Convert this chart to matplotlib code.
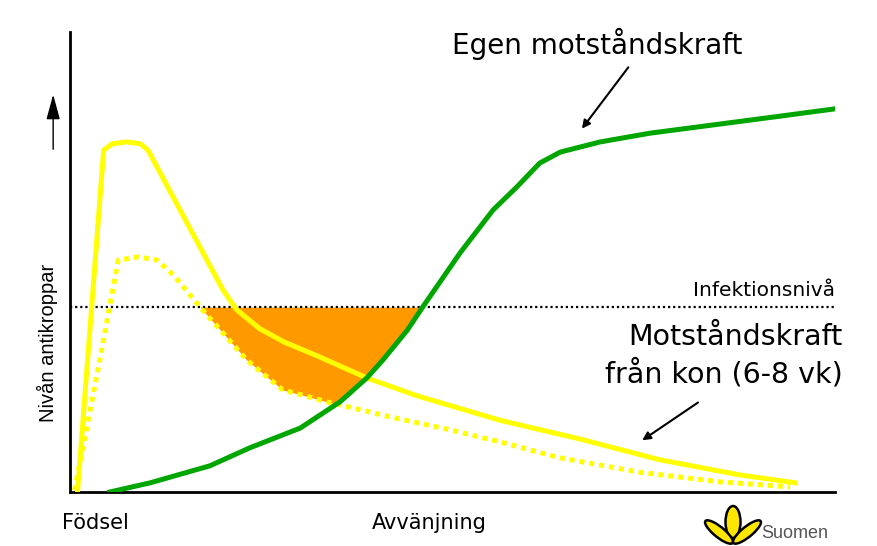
import matplotlib
matplotlib.use("Agg")
import matplotlib.pyplot as plt
import numpy as np
from matplotlib.patches import Ellipse

# Data (arbitrary time units 0-100, antibody level 0-100)
mother_x = [1.0, 4.4, 5.5, 7.4, 9.2, 10.2, 20.0, 21.8, 24.8, 28.0, 32.3, 38.8, 45.4, 56.2, 66.7, 77.1, 87.6, 94.8]
mother_y = [0.4, 74.3, 75.7, 76.1, 75.7, 74.3, 43.9, 39.6, 35.5, 32.6, 29.6, 24.8, 20.9, 15.6, 11.5, 7.0, 3.7, 2.0]

mother_low_x = [0.6, 3.7, 6.3, 8.9, 11.4, 13.5, 17.0, 23.1, 27.8, 33.6, 40.9, 49.7, 56.2, 64.1, 74.5, 85.0, 94.1]
mother_low_y = [0.4, 27.0, 50.4, 51.1, 50.4, 47.2, 40.2, 28.7, 22.2, 19.6, 16.7, 13.5, 10.9, 7.4, 4.3, 2.2, 1.1]

own_x = [5.2, 10.5, 18.3, 23.5, 30.1, 35.3, 38.8, 40.9, 44.1, 46.1, 51.0, 55.3, 58.4, 61.4, 64.1, 69.3, 75.8, 85.0, 92.8, 100.0]
own_y = [0.0, 2.0, 5.7, 9.6, 13.9, 19.6, 24.8, 28.7, 35.2, 40.2, 52.0, 61.3, 66.3, 71.5, 73.9, 76.1, 78.0, 80.0, 81.7, 83.3]

infection_level = 40.2

x_ticks = [3.3, 47.0]
x_labels = ["Födsel", "Avvänjning"]

fig = plt.figure(figsize=(8.77, 5.46), dpi=100)
ax = fig.add_axes([70/877, (546-492)/546, (835-70)/877, (492-32)/546])
ax.set_xlim(0, 100)
ax.set_ylim(0, 100)

# orange gap region
xs = np.linspace(0, 100, 2000)
low = np.interp(xs, mother_low_x, mother_low_y)
own = np.interp(xs, own_x, own_y)
lower = np.maximum(low, own)
mask = (xs > 12) & (lower < infection_level)
ax.fill_between(xs, lower, infection_level, where=mask, color="#FF9900", lw=0, zorder=1)

ax.axhline(infection_level, color="black", lw=1.6, ls=(0, (1, 1.3)), zorder=2)

ax.plot(mother_low_x, mother_low_y, color="#FFFF00", lw=3.6, ls=(0, (1, 1)), zorder=3,
        dash_capstyle="butt")
ax.plot(mother_x, mother_y, color="#FFFF00", lw=3.6, zorder=4, solid_joinstyle="round")
ax.plot(own_x, own_y, color="#00A600", lw=3.6, zorder=5, solid_joinstyle="round")

for s in ["top", "right"]:
    ax.spines[s].set_visible(False)
for s in ["left", "bottom"]:
    ax.spines[s].set_linewidth(2)
ax.set_yticks([])
ax.set_xticks(x_ticks)
ax.set_xticklabels(x_labels, fontsize=15, fontfamily="DejaVu Sans")
ax.tick_params(axis="x", length=0, pad=15)

fig.text(47/877, 1-343/546, "Nivån antikroppar", rotation=90, ha="center", va="center",
         fontsize=14.5, family="Liberation Sans")

# axis direction arrow
ax.annotate("", xy=(-0.022, 0.87), xytext=(-0.022, 0.739), xycoords="axes fraction",
            arrowprops=dict(arrowstyle="-|>,head_length=1.1,head_width=0.3", color="black",
                            lw=1, mutation_scale=14),
            annotation_clip=False)

ax.text(100, infection_level + 1.6, "Infektionsnivå", ha="right", va="bottom", fontsize=14.5)

ax.text(68.9, 97.5, "Egen motståndskraft", ha="center", va="center", fontsize=20)
ax.annotate("", xy=(66.7, 78.5), xytext=(73.2, 92.8),
            arrowprops=dict(arrowstyle="-|>", color="black", lw=1.5, mutation_scale=12))

ax.text(101, 29.6, "Motståndskraft\nfrån kon (6-8 vk)", ha="right", va="center",
        fontsize=20.5, linespacing=1.3)
ax.annotate("", xy=(74.5, 10.9), xytext=(82.4, 19.8),
            arrowprops=dict(arrowstyle="-|>", color="black", lw=1.5, mutation_scale=12))

# logo (bottom right)
for (cx, cy, w, h, ang) in [(733, 522, 15, 32, 0), (719, 532, 13, 28, 35), (747, 532, 13, 28, -35)]:
    fig.add_artist(Ellipse((cx/877, 1-cy/546), w/877, h/546, angle=ang, facecolor="#FFE600",
                           edgecolor="black", lw=1.8, transform=fig.transFigure))
fig.text(761/877, 1-533/546, "Suomen", fontsize=13, color="#555555", ha="left", va="center",
         family="Liberation Sans")

fig.savefig("out.png", dpi=100)
